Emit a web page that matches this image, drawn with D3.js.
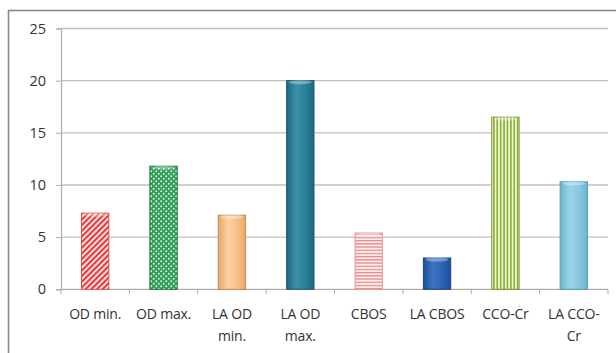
<!DOCTYPE html>
<html>
<head>
<meta charset="utf-8">
<script src="https://cdn.jsdelivr.net/npm/d3@7/dist/d3.min.js"></script>
<style>
  html, body { margin: 0; padding: 0; background: #fff; }
  svg { display: block; }
  text { font-family: "Open Sans", "Noto Sans", sans-serif; fill: #333; }
</style>
</head>
<body>
<svg id="chart" width="616" height="353"></svg>
<script>
// Categories (label lines) and their values
const categories = ["OD min.", "OD max.", "LA OD min.", "LA OD max.", "CBOS", "LA CBOS", "CCO-Cr", "LA CCO-Cr"];
const labelLines = [["OD min."], ["OD max."], ["LA OD", "min."], ["LA OD", "max."], ["CBOS"], ["LA CBOS"], ["CCO-Cr"], ["LA CCO-", "Cr"]];
const values = [7.3, 11.8, 7.1, 20.0, 5.4, 3.0, 16.5, 10.3];
const yTicks = [0, 5, 10, 15, 20, 25];

const svg = d3.select("#chart");
const margin = { left: 61, right: 8, top: 28.5, bottom: 63.7 };
const W = 616, H = 353;

const x = d3.scaleBand().domain(categories)
  .range([margin.left, W - margin.right])
  .paddingInner(0.6).paddingOuter(0.3);
const y = d3.scaleLinear().domain([0, 25]).range([H - margin.bottom, margin.top]);

// Fills: patterns and gradients for each bar
const defs = svg.append("defs");

const diag = defs.append("pattern").attr("id", "pDiag")
  .attr("width", 4).attr("height", 4).attr("patternUnits", "userSpaceOnUse")
  .attr("patternTransform", "rotate(45)");
diag.append("rect").attr("width", 4).attr("height", 4).attr("fill", "#fdf2ee");
diag.append("rect").attr("width", 2.2).attr("height", 4).attr("fill", "#e8393a");

const dots = defs.append("pattern").attr("id", "pDots")
  .attr("width", 5).attr("height", 5).attr("patternUnits", "userSpaceOnUse");
dots.append("rect").attr("width", 5).attr("height", 5).attr("fill", "#2f9e55");
dots.append("circle").attr("cx", 1.25).attr("cy", 1.25).attr("r", 0.95).attr("fill", "#e6f5ea");
dots.append("circle").attr("cx", 3.75).attr("cy", 3.75).attr("r", 0.95).attr("fill", "#e6f5ea");

const hstripe = defs.append("pattern").attr("id", "pHoriz")
  .attr("width", 4).attr("height", 3.2).attr("patternUnits", "userSpaceOnUse");
hstripe.append("rect").attr("width", 4).attr("height", 3.2).attr("fill", "#fbeeee");
hstripe.append("rect").attr("width", 4).attr("height", 1.3).attr("fill", "#ec8a8a");

const vstripe = defs.append("pattern").attr("id", "pVert")
  .attr("width", 3.4).attr("height", 4).attr("patternUnits", "userSpaceOnUse");
vstripe.append("rect").attr("width", 3.4).attr("height", 4).attr("fill", "#eef3d8");
vstripe.append("rect").attr("width", 1.7).attr("height", 4).attr("fill", "#8db23a");

function solidGrad(id, edge, mid, light) {
  const g = defs.append("linearGradient").attr("id", id)
    .attr("x1", "0").attr("x2", "1").attr("y1", "0").attr("y2", "0");
  g.append("stop").attr("offset", "0").attr("stop-color", edge);
  g.append("stop").attr("offset", "0.35").attr("stop-color", light);
  g.append("stop").attr("offset", "0.7").attr("stop-color", mid);
  g.append("stop").attr("offset", "1").attr("stop-color", edge);
}
solidGrad("gOrange", "#e7a868", "#f7c08a", "#fbd2a2");
solidGrad("gTeal", "#1d6680", "#2a7f98", "#3a90aa");
solidGrad("gBlue", "#1f4f9a", "#2b62b3", "#3c74c2");
solidGrad("gLight", "#6ab5cf", "#86c8df", "#9ad4e8");

const fills = ["url(#pDiag)", "url(#pDots)", "url(#gOrange)", "url(#gTeal)",
               "url(#pHoriz)", "url(#gBlue)", "url(#pVert)", "url(#gLight)"];
const strokes = ["#e05050", "#1f7a40", "#c98a4e", "#1a5a70", "#e49a9a", "#1c4585", "#7a9a30", "#5a9ab5"];

// Outer frame
svg.append("rect").attr("x", 8.5).attr("y", 10.5).attr("width", 620).attr("height", 360)
  .attr("fill", "none").attr("stroke", "#8f8885").attr("stroke-width", 1.6);

// Gridlines
svg.append("g").selectAll("line").data(yTicks.filter(d => d > 0)).join("line")
  .attr("x1", margin.left).attr("x2", W - margin.right)
  .attr("y1", d => y(d)).attr("y2", d => y(d))
  .attr("stroke", "#cbbdb6").attr("stroke-width", 1.3);

// Y axis
const yAxis = svg.append("g").attr("transform", `translate(${margin.left},0)`)
  .call(d3.axisLeft(y).tickValues(yTicks).tickSize(5).tickPadding(10));
yAxis.select(".domain").attr("stroke", "#b8aaa4").attr("stroke-width", 1.2);
yAxis.selectAll(".tick line").attr("stroke", "#b8aaa4");
yAxis.selectAll(".tick text").attr("font-size", 14.5).style("fill", "#333")
  .attr("font-family", "'Open Sans', sans-serif");

// X axis with ticks at category boundaries
const xAxisY = y(0);
svg.append("line").attr("x1", margin.left).attr("x2", W - margin.right)
  .attr("y1", xAxisY).attr("y2", xAxisY).attr("stroke", "#b8aaa4").attr("stroke-width", 1.3);
const step = x.step();
const boundaries = d3.range(categories.length + 1).map(i => margin.left + i * step);
svg.append("g").selectAll("line").data(boundaries).join("line")
  .attr("x1", d => d).attr("x2", d => d)
  .attr("y1", xAxisY).attr("y2", xAxisY + 5)
  .attr("stroke", "#b8aaa4");

// Bars
const bars = svg.append("g");
categories.forEach((c, i) => {
  const bx = x(c), bw = x.bandwidth(), by = y(values[i]), bh = y(0) - y(values[i]);
  bars.append("rect").attr("x", bx).attr("y", by).attr("width", bw).attr("height", bh)
    .attr("fill", fills[i]).attr("stroke", strokes[i]).attr("stroke-width", 1);
  // soft top highlight
  bars.append("ellipse").attr("cx", bx + bw / 2).attr("cy", by + 1.5)
    .attr("rx", bw / 2 - 2).attr("ry", 2)
    .attr("fill", "#ffffff").attr("opacity", 0.35);
});

// Category labels
const lab = svg.append("g");
categories.forEach((c, i) => {
  const t = lab.append("text").attr("x", x(c) + x.bandwidth() / 2).attr("y", 319)
    .attr("text-anchor", "middle").attr("font-size", 14).attr("letter-spacing", -0.2);
  labelLines[i].forEach((line, j) => {
    t.append("tspan").attr("x", x(c) + x.bandwidth() / 2).attr("dy", j === 0 ? 0 : 22).text(line);
  });
});
</script>
</body>
</html>
